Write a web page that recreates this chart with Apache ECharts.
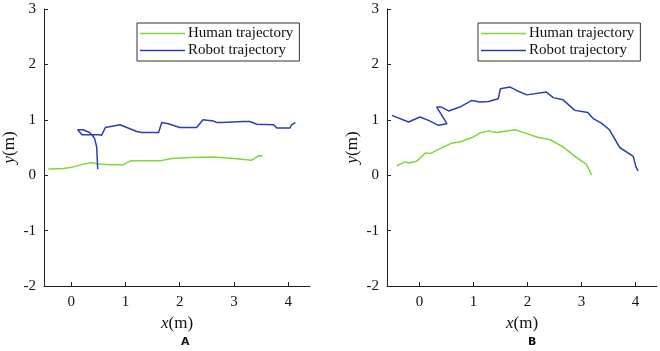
<!DOCTYPE html>
<html>
<head>
<meta charset="utf-8">
<script src="https://cdn.jsdelivr.net/npm/echarts@6/dist/echarts.min.js"></script>
<style>
  html, body { margin: 0; padding: 0; background: #fff; }
  #chart { width: 660px; height: 351px; }
</style>
</head>
<body>
<div id="chart"></div>
<script>
// trajectories, [x, y] in metres
var humanA = [[-0.42, 0.11], [-0.14, 0.12], [0.04, 0.15], [0.23, 0.20], [0.38, 0.23], [0.50, 0.20],
    [0.72, 0.19], [0.96, 0.19], [1.09, 0.26], [1.27, 0.26], [1.64, 0.26], [1.85, 0.30], [2.19, 0.32],
    [2.62, 0.33], [2.99, 0.30], [3.33, 0.27], [3.36, 0.28], [3.45, 0.35], [3.53, 0.35]];
var robotA = [[0.49, 0.11], [0.47, 0.51], [0.43, 0.67], [0.34, 0.77], [0.22, 0.82], [0.12, 0.82],
    [0.20, 0.73], [0.52, 0.73], [0.56, 0.72], [0.63, 0.86], [0.66, 0.89], [0.90, 0.91], [1.21, 0.79],
    [1.30, 0.77], [1.61, 0.77], [1.67, 0.95], [1.79, 0.93], [2.00, 0.86], [2.31, 0.86], [2.43, 1.00],
    [2.62, 0.98], [2.68, 0.95], [2.77, 0.95], [3.17, 0.97], [3.29, 0.97], [3.42, 0.92], [3.73, 0.91],
    [3.79, 0.85], [4.03, 0.85], [4.06, 0.91], [4.13, 0.95]];
var humanB = [[-0.42, 0.17], [-0.26, 0.24], [-0.20, 0.22], [-0.05, 0.25], [0.11, 0.40], [0.20, 0.39],
    [0.38, 0.48], [0.60, 0.58], [0.75, 0.60], [1.00, 0.69], [1.12, 0.76], [1.28, 0.80], [1.43, 0.77],
    [1.77, 0.82], [1.99, 0.75], [2.17, 0.69], [2.42, 0.64], [2.66, 0.51], [2.88, 0.34], [3.09, 0.20],
    [3.19, 0.00]];
var robotB = [[-0.51, 1.08], [-0.20, 0.96], [0.01, 1.05], [0.17, 0.99], [0.35, 0.90], [0.51, 0.93],
    [0.32, 1.23], [0.41, 1.23], [0.54, 1.16], [0.75, 1.23], [0.97, 1.35], [1.12, 1.32], [1.28, 1.33],
    [1.46, 1.38], [1.50, 1.56], [1.68, 1.59], [1.80, 1.53], [1.99, 1.45], [2.35, 1.50], [2.48, 1.40],
    [2.66, 1.36], [2.88, 1.17], [3.12, 1.13], [3.22, 1.02], [3.37, 0.94], [3.52, 0.82], [3.71, 0.50],
    [3.96, 0.34], [4.01, 0.15], [4.05, 0.08]];
var xTicks = [0, 1, 2, 3, 4];
var seriesNames = ['Human trajectory', 'Robot trajectory'];
var panelLabels = ['A', 'B'];

var serif = 'Liberation Serif';
var green = '#7ed836';
var blue = '#2b3fb4';

function xAxis(idx, min) {
    return {
        type: 'value', gridIndex: idx, min: min, max: 4.4,
        name: '{i|x}(m)', nameLocation: 'middle', nameGap: 25,
        nameTextStyle: { fontFamily: serif, fontSize: 17, color: '#111',
            rich: { i: { fontFamily: serif, fontStyle: 'italic', fontSize: 17, color: '#111' } } },
        axisLine: { onZero: false, lineStyle: { color: '#222', width: 1 } },
        axisTick: { inside: true, length: 4, customValues: xTicks, lineStyle: { color: '#222' } },
        axisLabel: { customValues: xTicks, fontFamily: serif, fontSize: 15, color: '#111', margin: 9 },
        splitLine: { show: false }
    };
}
function yAxis(idx) {
    return {
        type: 'value', gridIndex: idx, min: -2, max: 3, interval: 1,
        name: '{i|y}(m)', nameLocation: 'middle', nameGap: 26,
        nameTextStyle: { fontFamily: serif, fontSize: 17, color: '#111',
            rich: { i: { fontFamily: serif, fontStyle: 'italic', fontSize: 17, color: '#111' } } },
        axisLine: { show: true, onZero: false, lineStyle: { color: '#222', width: 1 } },
        axisTick: { show: true, inside: true, length: 4, lineStyle: { color: '#222' } },
        axisLabel: { fontFamily: serif, fontSize: 15, color: '#111', margin: 8 },
        splitLine: { show: false }
    };
}
function legend(left) {
    return {
        orient: 'vertical', left: left, top: 23, data: seriesNames,
        icon: 'rect', itemWidth: 45, itemHeight: 1.5, itemGap: 2,
        padding: [3, 6, 3, 3],
        borderColor: '#333', borderWidth: 1, backgroundColor: '#fff',
        textStyle: { fontFamily: serif, fontSize: 15, color: '#111', padding: [0, 0, 0, -2] },
        selectedMode: false
    };
}
function line(name, data, color, idx) {
    return {
        type: 'line', name: name, data: data, xAxisIndex: idx, yAxisIndex: idx,
        showSymbol: false, symbol: 'none', smooth: false, animation: false,
        lineStyle: { color: color, width: 1.5 }, itemStyle: { color: color }
    };
}

var chart = echarts.init(document.getElementById('chart'));
chart.setOption({
    backgroundColor: '#fff',
    animation: false,
    grid: [
        { left: 44, top: 9, width: 266, height: 277 },
        { left: 387, top: 9, width: 270, height: 277 }
    ],
    xAxis: [xAxis(0, -0.5), xAxis(1, -0.6)],
    yAxis: [yAxis(0), yAxis(1)],
    legend: [legend(137), legend(478)],
    title: [
        { text: panelLabels[0], left: 176, top: 332,
          textStyle: { fontFamily: 'DejaVu Sans', fontSize: 11, fontWeight: 'bold', color: '#111' } },
        { text: panelLabels[1], left: 523, top: 332,
          textStyle: { fontFamily: 'DejaVu Sans', fontSize: 11, fontWeight: 'bold', color: '#111' } }
    ],
    series: [
        line(seriesNames[0], humanA, green, 0),
        line(seriesNames[1], robotA, blue, 0),
        line(seriesNames[0], humanB, green, 1),
        line(seriesNames[1], robotB, blue, 1)
    ]
});
</script>
</body>
</html>
